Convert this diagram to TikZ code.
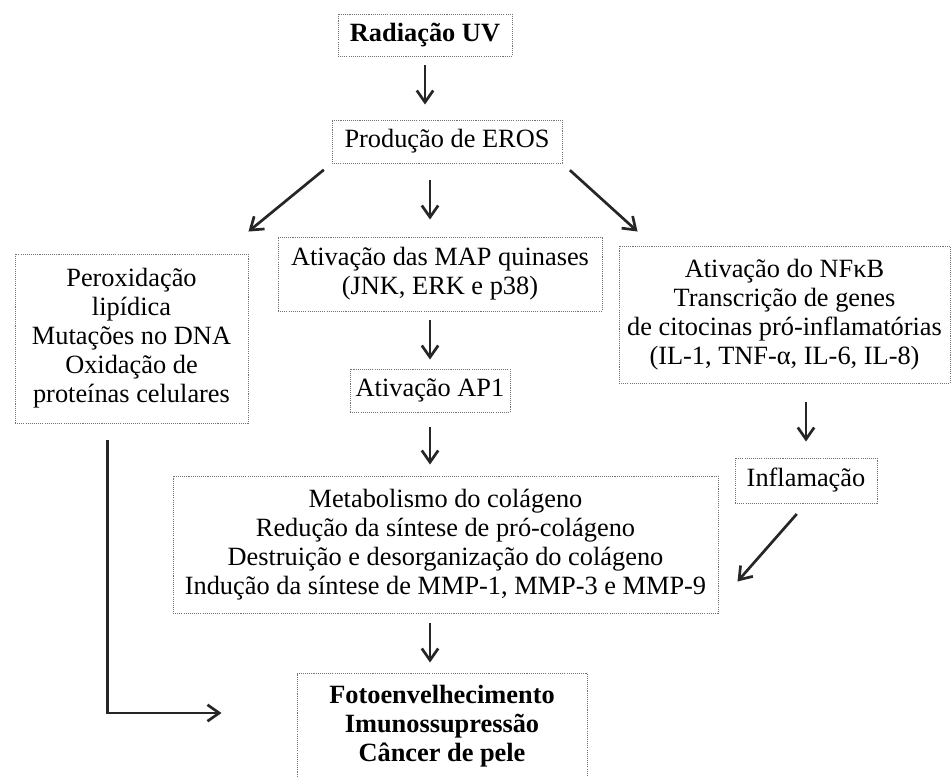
\documentclass[tikz,border=0pt]{standalone}
\usepackage{fontspec}
\setmainfont{Liberation Serif}
\usetikzlibrary{arrows.meta}
\newcommand{\unitpx}{0.03cm}

\begin{document}
\begin{tikzpicture}[
  x=0.03cm, y=-0.03cm,
  font=\fontsize{22.5}{24.75}\selectfont,
  box/.style={draw=gray!90!black, line width=0.8pt, dash pattern=on 0.9pt off 0.9pt, align=center, inner sep=2pt},
  boldtext/.style={font=\fontsize{22.5}{24.75}\selectfont\bfseries},
  arrow/.style={-{Straight Barb[length=10pt,width=14pt]}, line width=2.3pt, draw=black!85}
]
\useasboundingbox (0,0) rectangle (952,776);

% Nodes
\node[box, boldtext, minimum width=174*\unitpx, minimum height=42*\unitpx] (rad) at (425,35) {Radiação UV};
\node[box, minimum width=230*\unitpx, minimum height=43*\unitpx] (eros) at (447,141.5) {Produção de EROS};
\node[box, minimum width=233*\unitpx, minimum height=169*\unitpx] (left) at (131.5,338.5) {Peroxidação\\ lipídica\\ Mutações no DNA\\ Oxidação de\\ proteínas celulares};
\node[box, minimum width=324*\unitpx, minimum height=74*\unitpx] (map) at (440,274) {Ativação das MAP quinases\\ (JNK, ERK e p38)};
\node[box, minimum width=331*\unitpx, minimum height=137*\unitpx] (nf) at (784.5,314.5) {Ativação do NFκB\\ Transcrição de genes\\ de citocinas pró-inflamatórias\\ (IL-1, TNF-α, IL-6, IL-8)};
\node[box, minimum width=160*\unitpx, minimum height=43*\unitpx] (ap) at (430,390.5) {Ativação AP1};
\node[box, minimum width=142*\unitpx, minimum height=45*\unitpx] (infl) at (806,480.5) {Inflamação};
\node[box, minimum width=545*\unitpx, minimum height=137*\unitpx] (met) at (445.5,544.5) {Metabolismo do colágeno\\ Redução da síntese de pró-colágeno\\ Destruição e desorganização do colágeno\\ Indução da síntese de MMP-1, MMP-3 e MMP-9};
\node[box, boldtext, minimum width=290*\unitpx, minimum height=106*\unitpx] (fin) at (442,726) {Fotoenvelhecimento\\ Imunossupressão\\ Câncer de pele};

% Pointers
\draw[arrow, shorten <=9*\unitpx, shorten >=15*\unitpx] (rad.south) -- (rad.south |- eros.north);
\draw[arrow, shorten <=17*\unitpx, shorten >=17*\unitpx] (eros.south -| ap.north) -- (map.north -| ap.north);
\draw[arrow, shorten <=9*\unitpx, shorten >=9*\unitpx] (map.south -| ap.north) -- (ap.north);
\draw[arrow, shorten <=15*\unitpx, shorten >=11*\unitpx] (ap.south) -- (met.north -| ap.south);
\draw[arrow, shorten <=10*\unitpx, shorten >=10*\unitpx] (met.south -| ap.south) -- (fin.north -| ap.south);
\draw[arrow, shorten <=10*\unitpx] (eros.south west) -- ([yshift=22*\unitpx]left.north east);
\draw[arrow, shorten <=10*\unitpx] (eros.south east) -- ([xshift=19*\unitpx, yshift=14*\unitpx]nf.north west);
\draw[arrow, shorten <=19*\unitpx, shorten >=16*\unitpx] (nf.south -| infl.north) -- (infl.north);
\draw[arrow, shorten <=14*\unitpx] (infl.south) -- ([xshift=19*\unitpx, yshift=-37*\unitpx]met.east);
\draw[arrow, shorten <=17*\unitpx, shorten >=75*\unitpx] ([xshift=-24*\unitpx]left.south) |- ([yshift=13*\unitpx]fin.west);
\end{tikzpicture}
\end{document}
